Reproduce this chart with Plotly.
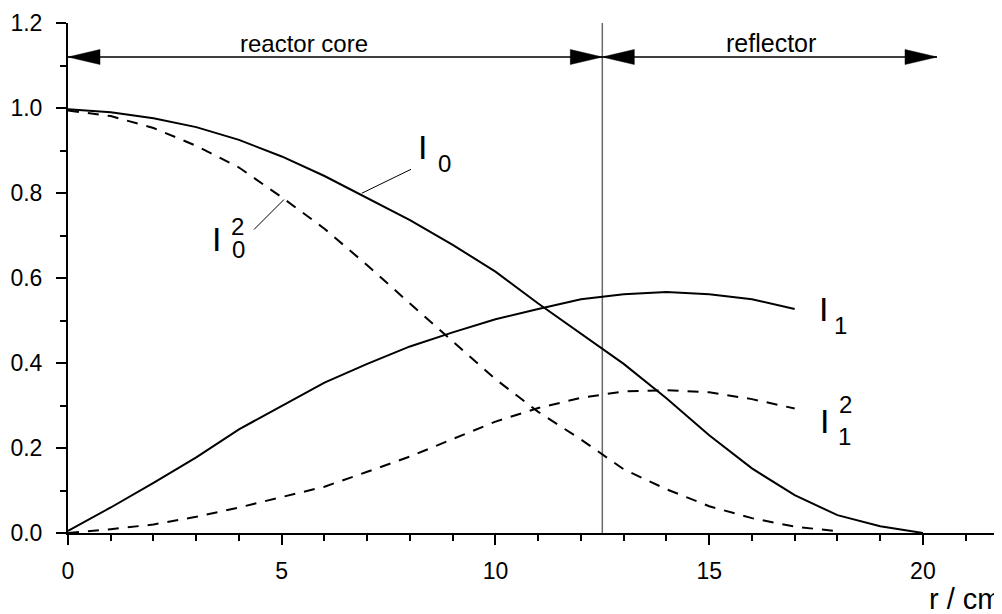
import plotly.graph_objects as go

# ---- data ----
r_I0 = list(range(0, 21))
I0 = [0.997, 0.990, 0.976, 0.955, 0.925, 0.886, 0.840, 0.789, 0.736, 0.678,
      0.615, 0.540, 0.469, 0.398, 0.317, 0.230, 0.152, 0.089, 0.042, 0.016, 0.0]

r_I0sq = list(range(0, 19))
I0sq = [0.994, 0.981, 0.953, 0.911, 0.860, 0.790, 0.716, 0.630, 0.540, 0.452,
        0.362, 0.285, 0.220, 0.150, 0.103, 0.063, 0.035, 0.015, 0.004]

r_I1 = list(range(0, 18))
I1 = [0.005, 0.060, 0.118, 0.178, 0.244, 0.300, 0.354, 0.398, 0.439, 0.472,
      0.503, 0.527, 0.550, 0.562, 0.567, 0.562, 0.550, 0.527]

r_I1sq = list(range(0, 18))
I1sq = [0.0, 0.009, 0.020, 0.038, 0.060, 0.084, 0.109, 0.144, 0.180, 0.221,
        0.262, 0.294, 0.318, 0.333, 0.336, 0.331, 0.315, 0.293]

x_ticks = [0, 5, 10, 15, 20]
y_ticks = [0.0, 0.2, 0.4, 0.6, 0.8, 1.0, 1.2]

core_start = 0.0
core_end = 12.5
reflector_end = 20.33
arrow_y = 1.12
region_labels = ["reactor core", "reflector"]
x_title = "r / cm"

# ---- layout geometry (page has an 8px body margin) ----
OFF = 8
PAGE_W, PAGE_H = 1002, 614
W, H = PAGE_W - OFF, PAGE_H - OFF
PL, PT, PB = 68, 23, 533          # plot area edges in page pixels
ML, MT = PL - OFF, PT - OFF
MR = 0
MB = H - (PB - OFF)
XMAX = 21.85
YMAX = 1.2
FONT = "Liberation Sans, Arial, Helvetica, sans-serif"

pw = W - ML - MR
ph = H - MT - MB


def dx(px):
    return (px - PL) / pw * XMAX


def dy(py):
    return (PB - py) / ph * YMAX


def fx(px):
    return (px - PL) / pw


def fy(py):
    return (PB - py) / ph


fig = go.Figure()

solid = dict(color="black", width=2)
dashed = dict(color="black", width=2, dash="11px,9px")

fig.add_trace(go.Scatter(x=r_I0, y=I0, mode="lines", line=solid, name="I0"))
fig.add_trace(go.Scatter(x=r_I0sq, y=I0sq, mode="lines", line=dashed, name="I0^2"))
fig.add_trace(go.Scatter(x=r_I1, y=I1, mode="lines", line=solid, name="I1"))
fig.add_trace(go.Scatter(x=r_I1sq, y=I1sq, mode="lines", line=dashed, name="I1^2"))

shapes = []
# boundary core / reflector
shapes.append(dict(type="line", xref="x", yref="y", x0=core_end, x1=core_end,
                    y0=0, y1=YMAX, line=dict(color="#6a6a6a", width=1.5),
                    layer="below"))
# arrows
for a, b in [(core_start, core_end), (core_end, reflector_end)]:
    shapes.append(dict(type="line", xref="x", yref="y", x0=a, x1=b,
                        y0=arrow_y, y1=arrow_y, line=dict(color="black", width=1.3)))
    shapes.append(dict(type="path", xref="x", yref="y", xsizemode="pixel",
                        ysizemode="pixel", xanchor=a, yanchor=arrow_y,
                        path="M0,0 L32,7.5 L32,-7.5 Z", fillcolor="black",
                        line=dict(color="black", width=0.5)))
    shapes.append(dict(type="path", xref="x", yref="y", xsizemode="pixel",
                        ysizemode="pixel", xanchor=b, yanchor=arrow_y,
                        path="M0,0 L-32,7.5 L-32,-7.5 Z", fillcolor="black",
                        line=dict(color="black", width=0.5)))

# leader lines for curve labels (page pixels)
leaders = [((361.7, 193.3), (411.0, 169.3)),
           ((254.0, 229.5), (284.0, 199.5))]
for (p0, p1) in leaders:
    shapes.append(dict(type="line", xref="x", yref="y",
                        x0=dx(p0[0]), y0=dy(p0[1]), x1=dx(p1[0]), y1=dy(p1[1]),
                        line=dict(color="black", width=1)))

annotations = []


def txt(s, px, py, size, xanchor="center"):
    annotations.append(dict(text=s, x=fx(px), y=fy(py), xref="paper", yref="paper",
                            showarrow=False, xanchor=xanchor, yanchor="middle",
                            font=dict(family=FONT, size=size, color="black")))


# region labels
txt(region_labels[0], 304, 43.5, 24)
txt(region_labels[1], 771, 43.5, 25)

# curve labels: I0
txt("I", 422.8, 147, 34)
txt("0", 444.4, 163.8, 24)
# I0^2
txt("I", 216.5, 239, 34)
txt("2", 237.5, 226, 24)
txt("0", 238, 249, 24)
# I1
txt("I", 823, 309, 34)
txt("1", 840.5, 325, 24)
# I1^2
txt("I", 824.5, 421, 34)
txt("2", 845.5, 404, 24)
txt("1", 844, 436, 24)

# axis title (cut by the right edge, as in the reference)
txt(x_title, 927, 599, 29, xanchor="left")

fig.update_layout(
    width=W, height=H,
    margin=dict(l=ML, r=MR, t=MT, b=MB, pad=0),
    paper_bgcolor="white", plot_bgcolor="white",
    showlegend=False,
    font=dict(family=FONT, size=23, color="black"),
    shapes=shapes,
    annotations=annotations,
    xaxis=dict(range=[0, XMAX], tickvals=x_ticks, ticks="outside", ticklen=10,
               tickwidth=2, tickcolor="black", showline=True, linecolor="black",
               linewidth=2, showgrid=False, zeroline=False,
               tickfont=dict(family=FONT, size=23),
               ticklabelstandoff=6, automargin=False,
               minor=dict(dtick=1, ticks="outside", ticklen=6, tickwidth=2,
                          tickcolor="black", showgrid=False)),
    yaxis=dict(range=[0, YMAX], tickvals=y_ticks, tickformat=".1f",
               ticks="outside", ticklen=10, tickwidth=2, tickcolor="black",
               showline=True, linecolor="black", linewidth=2, showgrid=False,
               zeroline=False, tickfont=dict(family=FONT, size=23),
               ticklabelstandoff=9, automargin=False,
               minor=dict(dtick=0.1, ticks="outside", ticklen=6, tickwidth=2,
                          tickcolor="black", showgrid=False)),
)

fig.write_html("out.html")
